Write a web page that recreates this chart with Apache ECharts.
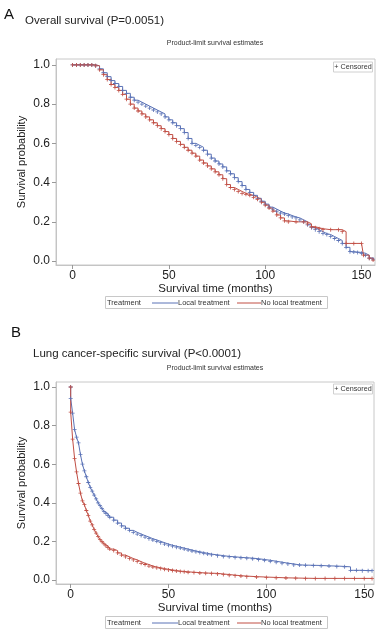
<!DOCTYPE html>
<html><head><meta charset="utf-8">
<script src="https://cdn.jsdelivr.net/npm/echarts@6/dist/echarts.min.js"></script>
<style>html,body{margin:0;padding:0;background:#fff}#c{width:380px;height:632px}</style>
</head><body><div id="c"></div>
<script>
// ---- Data ----
const xTicks = [0, 50, 100, 150];
const yTicks = [0, 0.2, 0.4, 0.6, 0.8, 1.0];
const seriesNames = ['Local treatment', 'No local treatment'];

// Panel A: Overall survival  [time (months), survival probability]
const overallLocal = [[0,1],[2,1],[4,1],[6,1],[8,1],[10,1],[12,0.995],[14,0.98],[16,0.96],[18,0.94],[20,0.92],[22,0.905],[24,0.89],[26,0.87],[28,0.855],[30,0.835],[32,0.82],[34,0.81],[36,0.8],[38,0.79],[40,0.78],[42,0.77],[44,0.76],[46,0.75],[48,0.735],[50,0.72],[52,0.705],[54,0.69],[56,0.675],[58,0.655],[60,0.625],[62,0.6],[64,0.59],[66,0.58],[68,0.565],[70,0.545],[72,0.525],[74,0.51],[76,0.495],[78,0.48],[80,0.46],[82,0.445],[84,0.425],[86,0.405],[88,0.385],[90,0.365],[92,0.35],[94,0.335],[96,0.32],[98,0.305],[100,0.29],[102,0.275],[104,0.265],[106,0.255],[108,0.245],[110,0.24],[112,0.232],[114,0.225],[116,0.22],[118,0.21],[120,0.2],[122,0.185],[124,0.17],[126,0.16],[128,0.15],[130,0.14],[132,0.135],[134,0.125],[136,0.115],[138,0.105],[140,0.09],[142,0.07],[144,0.048],[146,0.046],[148,0.044],[150,0.04],[152,0.03],[154,0.015],[156,0.01]];
const overallNoLocal = [[0,1],[2,1],[4,1],[6,1],[8,1],[10,1],[12,0.995],[14,0.975],[16,0.95],[18,0.925],[20,0.9],[22,0.885],[24,0.87],[26,0.85],[28,0.825],[30,0.8],[32,0.78],[34,0.765],[36,0.75],[38,0.735],[40,0.72],[42,0.705],[44,0.69],[46,0.675],[48,0.66],[50,0.645],[52,0.625],[54,0.61],[56,0.595],[58,0.58],[60,0.565],[62,0.55],[64,0.535],[66,0.515],[68,0.5],[70,0.485],[72,0.47],[74,0.455],[76,0.44],[78,0.42],[80,0.39],[82,0.375],[84,0.365],[86,0.355],[88,0.345],[90,0.34],[92,0.335],[94,0.325],[96,0.315],[98,0.3],[100,0.285],[102,0.27],[104,0.255],[106,0.235],[108,0.22],[110,0.205],[112,0.2],[116,0.2],[120,0.2],[122,0.19],[124,0.175],[126,0.17],[128,0.165],[130,0.16],[134,0.16],[138,0.16],[140,0.15],[142,0.09],[146,0.09],[150,0.09],[151,0.03],[154,0.015],[156,0.005]];

// Panel B: Lung cancer-specific survival
const lcssLocal = [[0,1],[0,0.94],[1,0.865],[2,0.78],[3,0.74],[4,0.71],[5,0.65],[6,0.6],[7,0.565],[8,0.535],[9,0.505],[10,0.48],[11,0.46],[12,0.44],[13,0.42],[14,0.4],[15,0.385],[16,0.37],[17,0.355],[18,0.345],[19,0.335],[20,0.325],[22,0.31],[24,0.295],[26,0.28],[28,0.268],[30,0.257],[32,0.247],[34,0.238],[36,0.23],[38,0.222],[40,0.214],[42,0.207],[44,0.2],[46,0.193],[48,0.186],[50,0.18],[52,0.175],[54,0.17],[56,0.165],[58,0.16],[60,0.155],[62,0.15],[64,0.146],[66,0.142],[68,0.138],[70,0.134],[72,0.13],[75,0.126],[78,0.122],[81,0.12],[84,0.117],[87,0.115],[90,0.113],[93,0.11],[96,0.106],[99,0.102],[102,0.097],[105,0.092],[108,0.087],[111,0.083],[114,0.078],[117,0.077],[120,0.076],[124,0.075],[128,0.073],[132,0.072],[136,0.07],[140,0.068],[143,0.05],[146,0.05],[149,0.048],[152,0.048],[154,0.048]];
const lcssNoLocal = [[0,1],[0,0.87],[1,0.73],[2,0.63],[3,0.56],[4,0.5],[5,0.45],[6,0.41],[7,0.39],[8,0.36],[9,0.335],[10,0.305],[11,0.285],[12,0.262],[13,0.243],[14,0.225],[15,0.21],[16,0.198],[17,0.187],[18,0.177],[19,0.168],[20,0.16],[22,0.152],[24,0.14],[26,0.129],[28,0.12],[30,0.111],[32,0.104],[34,0.095],[36,0.086],[38,0.08],[40,0.072],[42,0.067],[44,0.063],[46,0.059],[48,0.055],[50,0.052],[52,0.049],[54,0.046],[56,0.044],[58,0.042],[60,0.04],[63,0.038],[66,0.036],[69,0.035],[72,0.034],[75,0.031],[78,0.028],[81,0.025],[84,0.022],[87,0.02],[90,0.017],[95,0.015],[100,0.013],[105,0.011],[110,0.01],[115,0.009],[120,0.008],[125,0.008],[130,0.008],[135,0.008],[140,0.008],[145,0.008],[150,0.008],[154,0.008]];

// ---- Styling ----
const FONT = '"Liberation Sans", Arial, Helvetica, sans-serif';
const BLUE = '#5a72b6';
const RED = '#c14f45';
const PLUS = 'path://M4,0h2v10h-2z M0,4h10v2h-10z';

function xAxisCfg(gi, min, max, nameGap) {
  return {
    type: 'value', gridIndex: gi, min: min, max: max,
    name: 'Survival time (months)', nameLocation: 'middle', nameGap: nameGap,
    nameTextStyle: { fontFamily: FONT, fontSize: 11.5, color: '#222' },
    axisLine: { show: true, onZero: false, lineStyle: { color: '#c4c4c4', width: 1 } },
    axisTick: { show: true, length: 4, lineStyle: { color: '#999' }, customValues: xTicks },
    axisLabel: { customValues: xTicks, fontFamily: FONT, fontSize: 12, color: '#222', margin: 5 },
    splitLine: { show: false }
  };
}
function yAxisCfg(gi, min, max) {
  return {
    type: 'value', gridIndex: gi, min: min, max: max,
    name: 'Survival probability', nameLocation: 'middle', nameGap: 29, nameMoveOverlap: false,
    nameTextStyle: { fontFamily: FONT, fontSize: 11, color: '#222' },
    axisLine: { show: true, onZero: false, lineStyle: { color: '#c4c4c4', width: 1 } },
    axisTick: { show: true, length: 4, lineStyle: { color: '#999' }, customValues: yTicks },
    axisLabel: { customValues: yTicks, fontFamily: FONT, fontSize: 12, color: '#222', margin: 6,
      formatter: v => v.toFixed(1) },
    splitLine: { show: false }
  };
}
function kmSeries(name, data, color, xi, yi) {
  return {
    type: 'line', name: name, data: data, step: 'end',
    xAxisIndex: xi, yAxisIndex: yi,
    symbol: PLUS, symbolSize: 4, showSymbol: true, showAllSymbol: true,
    lineStyle: { color: color, width: 1 },
    itemStyle: { color: color },
    emphasis: { disabled: true }, z: 3
  };
}
function text(x, y, s, size, extra, z) {
  return { type: 'text', x: x, y: y, silent: true, z: z || 20,
    style: Object.assign({ text: s, fontFamily: FONT, fontSize: size, fill: '#222',
      textVerticalAlign: 'middle' }, extra || {}) };
}
function legend(y) {
  return [
    { type: 'rect', shape: { x: 105.5, y: y - 6.5, width: 222, height: 12 }, style: { fill: '#fff', stroke: '#c8c8c8', lineWidth: 1 }, silent: true, z: 10 },
    text(107, y, 'Treatment', 7.5, { fill: '#333' }),
    { type: 'line', shape: { x1: 152, y1: y, x2: 178, y2: y }, style: { stroke: BLUE, lineWidth: 1 }, silent: true, z: 20 },
    text(178, y, seriesNames[0], 7.5, { fill: '#333' }),
    { type: 'line', shape: { x1: 237, y1: y, x2: 261, y2: y }, style: { stroke: RED, lineWidth: 1 }, silent: true, z: 20 },
    text(261, y, seriesNames[1], 7.5, { fill: '#333' })
  ];
}
function censored(y) {
  return [
    { type: 'rect', shape: { x: 333.5, y: y - 5, width: 39, height: 10 }, style: { fill: '#fff', stroke: '#d0d0d0', lineWidth: 1 }, silent: true, z: 10 },
    text(353, y, '+ Censored', 7.2, { fill: '#333', textAlign: 'center' })
  ];
}

const chart = echarts.init(document.getElementById('c'), null, { renderer: 'canvas' });
chart.setOption({
  animation: false,
  backgroundColor: '#fff',
  grid: [
    { left: 56, top: 59, width: 319, height: 206, show: true, borderColor: '#c8c8c8', borderWidth: 1, containLabel: false },
    { left: 56, top: 382, width: 318, height: 202, show: true, borderColor: '#c8c8c8', borderWidth: 1, containLabel: false }
  ],
  xAxis: [ xAxisCfg(0, -8.6, 157, 16), xAxisCfg(1, -7.5, 155, 17) ],
  yAxis: [ yAxisCfg(0, -0.02, 1.03), yAxisCfg(1, -0.021, 1.026) ],
  series: [
    kmSeries(seriesNames[0], overallLocal, BLUE, 0, 0),
    kmSeries(seriesNames[1], overallNoLocal, RED, 0, 0),
    kmSeries(seriesNames[0], lcssLocal, BLUE, 1, 1),
    kmSeries(seriesNames[1], lcssNoLocal, RED, 1, 1)
  ],
  graphic: [
    text(4, 15, 'A', 15, { fill: '#111' }),
    text(25, 21, 'Overall survival (P=0.0051)', 11.5, { fill: '#222' }),
    text(215, 43, 'Product-limit survival estimates', 7, { fill: '#333', textAlign: 'center' }),
    ...censored(67),
    ...legend(303),
    text(11, 333, 'B', 15, { fill: '#111' }),
    text(33, 354, 'Lung cancer-specific survival (P<0.0001)', 11.5, { fill: '#222' }),
    text(215, 368, 'Product-limit survival estimates', 7, { fill: '#333', textAlign: 'center' }),
    ...censored(389),
    ...legend(623)
  ]
});
</script>
</body></html>
